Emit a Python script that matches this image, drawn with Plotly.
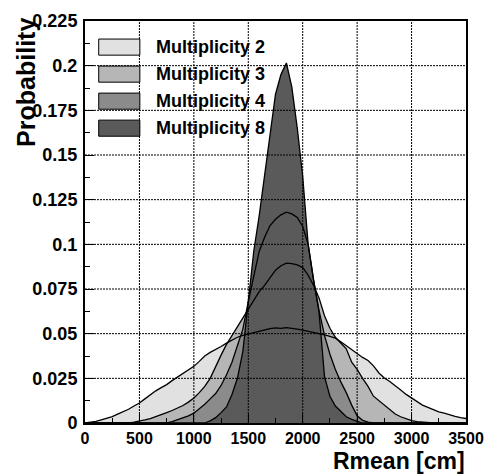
import plotly.graph_objects as go

# ---------------- data ----------------
x_cm = list(range(0, 3501, 50))

mult2 = [0.0000, 0.0003, 0.0009, 0.0018, 0.0027, 0.0036, 0.0050, 0.0063, 0.0077, 0.0095,
         0.0112, 0.0135, 0.0160, 0.0180, 0.0198, 0.0215, 0.0237, 0.0258, 0.0278, 0.0298,
         0.0317, 0.0345, 0.0375, 0.0395, 0.0410, 0.0428, 0.0447, 0.0465, 0.0480, 0.0490,
         0.0498, 0.0508, 0.0515, 0.0524, 0.0528, 0.0532, 0.0530, 0.0534, 0.0531, 0.0526,
         0.0520, 0.0514, 0.0508, 0.0500, 0.0493, 0.0485, 0.0475, 0.0455, 0.0432, 0.0412,
         0.0388, 0.0367, 0.0350, 0.0320, 0.0280, 0.0252, 0.0232, 0.0210, 0.0185, 0.0160,
         0.0140, 0.0120, 0.0100, 0.0087, 0.0073, 0.0062, 0.0055, 0.0045, 0.0037, 0.0030, 0.0025]

mult3 = [0, 0, 0, 0, 0, 0, 0, 0, 0,
         0.0005, 0.0010, 0.0017, 0.0025, 0.0035, 0.0047, 0.0058, 0.0070, 0.0082, 0.0098, 0.0117,
         0.0140, 0.0170, 0.0205, 0.0250, 0.0320, 0.0380, 0.0440, 0.0490, 0.0535, 0.0590,
         0.0635, 0.0690, 0.0735, 0.0770, 0.0815, 0.0855, 0.0880, 0.0895, 0.0892, 0.0885,
         0.0870, 0.0827, 0.0770, 0.0700, 0.0600, 0.0530, 0.0480, 0.0448, 0.0415, 0.0340,
         0.0300, 0.0250, 0.0205, 0.0150, 0.0125, 0.0098, 0.0073, 0.0050, 0.0035, 0.0022,
         0.0013, 0.0008, 0.0004, 0, 0, 0, 0, 0, 0, 0, 0]

mult4 = [0] * 16 + [
         0.0008, 0.0018, 0.0028, 0.0040,
         0.0055, 0.0078, 0.0105, 0.0135, 0.0165, 0.0210, 0.0270, 0.0340, 0.0430, 0.0525,
         0.0680, 0.0830, 0.0960, 0.1040, 0.1105, 0.1140, 0.1165, 0.1180, 0.1170, 0.1150,
         0.1100, 0.1000, 0.0800, 0.0630, 0.0490, 0.0385, 0.0300, 0.0230, 0.0170, 0.0100,
         0.0040, 0.0015, 0.0005] + [0] * 18

mult8 = [0] * 23 + [
         0.0012, 0.0030, 0.0058, 0.0090, 0.0160, 0.0250, 0.0400,
         0.0690, 0.0960, 0.1160, 0.1390, 0.1640, 0.1840, 0.1950, 0.2015, 0.1880, 0.1650,
         0.1380, 0.1000, 0.0800, 0.0620, 0.0260, 0.0150, 0.0095, 0.0065, 0.0035, 0.0020,
         0.0008] + [0] * 20

series_names = ["Multiplicity 2", "Multiplicity 3", "Multiplicity 4", "Multiplicity 8"]

x_tick_vals = [0, 500, 1000, 1500, 2000, 2500, 3000, 3500]
x_tick_text = ["0", "500", "1000", "1500", "2000", "2500", "3000", "3500"]
y_tick_vals = [0, 0.025, 0.05, 0.075, 0.1, 0.125, 0.15, 0.175, 0.2, 0.225]
y_tick_text = ["0", "0.025", "0.05", "0.075", "0.1", "0.125", "0.15", "0.175", "0.2", "0.225"]

# ---------------- style ----------------
fill_colors = ["#e1e1e1", "#b6b6b6", "#8b8b8b", "#5a5a5a"]
FONT = "Liberation Sans, Arial, Helvetica, sans-serif"

# plot area in pixels
W, H = 495, 475
L, R, T, B = 85, 21, 11, 52
PW, PH = W - L - R, H - T - B

def px2paper_x(px):
    return (px - L) / PW

def px2paper_y(py):
    return (H - B - py) / PH

series = [mult2, mult3, mult4, mult8]

fig = go.Figure()
# fills first (in drawing order), then outlines on top
for name, ys, col in zip(series_names, series, fill_colors):
    fig.add_trace(go.Scatter(x=x_cm, y=ys, mode="lines", fill="tozeroy",
                             fillcolor=col, line=dict(width=0, color=col),
                             name=name, showlegend=False, hoverinfo="skip"))
for name, ys in zip(series_names, series):
    fig.add_trace(go.Scatter(x=x_cm, y=ys, mode="lines",
                             line=dict(width=1.3, color="black"),
                             name=name, showlegend=False, hoverinfo="skip"))

shapes = []
# grid drawn above the fills (dotted), derived from tick values
for xv in x_tick_vals[1:-1]:
    shapes.append(dict(type="line", xref="x", yref="paper", x0=xv, x1=xv, y0=0, y1=1,
                       line=dict(color="black", width=1, dash="2px,1px"), layer="above"))
for yv in y_tick_vals[1:-1]:
    shapes.append(dict(type="line", xref="paper", yref="y", x0=0, x1=1, y0=yv, y1=yv,
                       line=dict(color="black", width=1, dash="2px,1px"), layer="above"))

annotations = []
# hand-built legend
box_x0, box_x1 = 99, 141
row_top0, row_h, row_step = 29.5, 16.5, 27.7
for i, (name, col) in enumerate(zip(series_names, fill_colors)):
    top = row_top0 + i * row_step
    shapes.append(dict(type="rect", xref="paper", yref="paper",
                       x0=px2paper_x(box_x0), x1=px2paper_x(box_x1),
                       y0=px2paper_y(top + row_h), y1=px2paper_y(top),
                       fillcolor=col, line=dict(color="black", width=1), layer="above"))
    annotations.append(dict(xref="paper", yref="paper", x=px2paper_x(155), y=px2paper_y(top + row_h / 2),
                            xanchor="left", yanchor="middle", showarrow=False, text=name,
                            font=dict(family=FONT, size=18, color="black", weight="bold")))

# axis titles
annotations.append(dict(xref="paper", yref="paper", x=px2paper_x(24), y=px2paper_y(6),
                        xanchor="center", yanchor="top", textangle=-90, showarrow=False,
                        text="Probability",
                        font=dict(family=FONT, size=25, color="black", weight="bold")))
annotations.append(dict(xref="paper", yref="paper", x=px2paper_x(475), y=px2paper_y(477),
                        xanchor="right", yanchor="bottom", showarrow=False,
                        text="Rmean [cm]",
                        font=dict(family=FONT, size=23, color="black", weight="bold")))

axis_common = dict(showline=True, mirror=True, linecolor="black", linewidth=2,
                   showgrid=False, zeroline=False, ticks="inside", ticklen=9,
                   tickwidth=1, tickcolor="black", layer="above traces")

fig.update_layout(
    width=W, height=H,
    margin=dict(l=L, r=R, t=T, b=B),
    paper_bgcolor="white", plot_bgcolor="white",
    shapes=shapes, annotations=annotations,
    showlegend=False,
    xaxis=dict(range=[0, 3500], tickvals=x_tick_vals, ticktext=x_tick_text,
               minor=dict(ticks="inside", ticklen=5, tickcolor="black", dtick=250, tick0=0, showgrid=False),
               tickfont=dict(family=FONT, size=16, color="black", weight="bold"),
               **axis_common),
    yaxis=dict(range=[0, 0.225], tickvals=y_tick_vals, ticktext=y_tick_text,
               minor=dict(ticks="inside", ticklen=5, tickcolor="black", dtick=0.0125, tick0=0, showgrid=False),
               ticklabelstandoff=2,
               tickfont=dict(family=FONT, size=18, color="black", weight="bold"),
               **axis_common),
)

fig.write_html("out.html", config={"displayModeBar": False},
               post_script="document.body.style.margin='0';document.body.style.padding='0';")
